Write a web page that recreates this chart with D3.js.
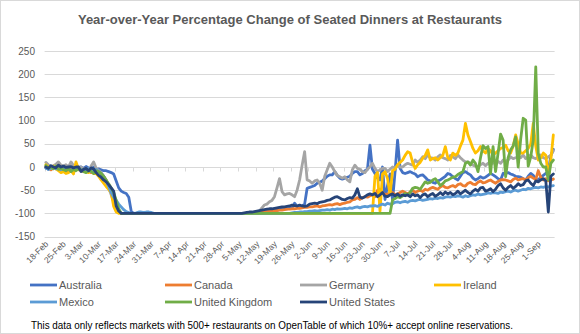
<!DOCTYPE html>
<html>
<head>
<meta charset="utf-8">
<script src="https://cdn.jsdelivr.net/npm/d3@7"></script>
<style>
  html, body { margin: 0; padding: 0; background: #fff; }
  svg { display: block; font-family: "Liberation Sans", Arial, sans-serif; }
</style>
</head>
<body>
<div id="chart"></div>
<script>
// Daily values, 18-Feb .. 7-Sep (one row per week)
const tickLabels = ["18-Feb", "25-Feb", "3-Mar", "10-Mar", "17-Mar", "24-Mar", "31-Mar", "7-Apr",
  "14-Apr", "21-Apr", "28-Apr", "5-May", "12-May", "19-May", "26-May", "2-Jun", "9-Jun", "16-Jun",
  "23-Jun", "30-Jun", "7-Jul", "14-Jul", "21-Jul", "28-Jul", "4-Aug", "11-Aug", "18-Aug", "25-Aug", "1-Sep"];

const yTicks = [-150, -100, -50, 0, 50, 100, 150, 200, 250];

const australia = [
  -2, -5, 2, -3, 0, 3, -2,
  -4, 0, 2, -2, 1, 3, -1,
  0, -3, 1, -2, -5, 0, -6,
  -4, -6, -8, -8, -10, -12, -15,
  -30, -45, -52, -55, -57, -65, -96,
  -100, -100, -100, -100, -100, -100, -100,
  -100, -100, -100, -100, -100, -100, -100,
  -100, -100, -100, -100, -100, -100, -100,
  -100, -100, -100, -100, -100, -100, -100,
  -100, -100, -100, -100, -100, -100, -100,
  -100, -100, -100, -100, -100, -100, -100,
  -100, -100, -100, -100, -100, -100, -100,
  -100, -99, -98, -97, -96, -95, -95,
  -94, -93, -92, -91, -90, -90, -89,
  -88, -78, -85, -86, -84, -80, -46,
  -44, -42, -40, -35, -33, -30, -25,
  -20, -17, -17, -10, -18, -24, -26,
  -24, -22, -20, -14, -10, -10, -17,
  -14, -8, -5, 47, -5, -14, -24,
  -28, 0, -70, -40, -15, -72, -10,
  58, -3, -12, -14, -12, -10, -13,
  -15, -21, -18, -17, -22, -28, -30,
  -33, -35, -30, -28, -24, -20, -14,
  -16, -21, -25, -28, -20, -12, -10,
  -14, -17, -24, -28, -25, -21, -24,
  -22, -18, -14, -17, -21, -25, -28,
  -14, -13, -12, -15, -17, -20, -21,
  -22, -25, -28, -20, -14, -18, -26,
  -28, -22, -18, -14, -10, 25, 38
];

const canada = [
  0, -3, -6, -2, 3, 5, -2,
  -5, -8, -10, -4, -8, -3, -6,
  -4, -10, -6, -5, -12, -8, -7,
  -10, -14, -20, -28, -40, -55, -70,
  -90, -97, -100, -100, -100, -100, -100,
  -100, -100, -100, -100, -100, -100, -100,
  -100, -100, -100, -100, -100, -100, -100,
  -100, -100, -100, -100, -100, -100, -100,
  -100, -100, -100, -100, -100, -100, -100,
  -100, -100, -100, -100, -100, -100, -100,
  -100, -100, -100, -100, -100, -100, -100,
  -100, -100, -100, -100, -100, -100, -100,
  -99, -98, -97, -97, -96, -95, -95,
  -94, -94, -93, -93, -92, -91, -91,
  -90, -90, -89, -89, -88, -87, -87,
  -86, -86, -85, -84, -86, -84, -83,
  -82, -81, -82, -80, -79, -81, -79,
  -78, -76, -75, -71, -70, -66, -70,
  -66, -64, -65, -62, -60, -64, -50,
  -48, -55, -60, -58, -57, -55, -60,
  -58, -55, -52, -55, -58, -54, -50,
  -55, -52, -50, -53, -48, -50, -46,
  -44, -46, -48, -43, -40, -44, -45,
  -42, -40, -43, -38, -36, -40, -41,
  -35, -33, -37, -38, -33, -30, -34,
  -33, -30, -28, -32, -35, -31, -28,
  -27, -28, -30, -32, -27, -24, -28,
  -26, -25, -28, -23, -20, -24, -27,
  -8, -22, -28, -25, -30, -28, -26
];

const germany = [
  10, 5, 0, 3, 6, 11, 4,
  2, 5, 0, 11, 3, 0, -2,
  0, -5, -3, -8, 2, 11, -2,
  -8, -12, -20, -30, -45, -60, -75,
  -90, -97, -100, -100, -100, -100, -100,
  -100, -100, -100, -100, -100, -100, -100,
  -100, -100, -100, -100, -100, -100, -100,
  -100, -100, -100, -100, -100, -100, -100,
  -100, -100, -100, -100, -100, -100, -100,
  -100, -100, -100, -100, -100, -100, -100,
  -100, -100, -100, -100, -100, -100, -100,
  -100, -100, -100, -100, -100, -100, -100,
  -100, -95, -88, -82, -80, -75, -72,
  -64, -45, -25, -53, -60, -58, -57,
  -60, -64, -50, -28, 4, 33, -28,
  -30, -35, -30, -28, -35, -50, -20,
  -6, 8, 0, -10, -18, -21, -24,
  -21, -28, -32, -6, 4, -3, -5,
  -10, -12, -5, 0, 8, -3, -10,
  -6, -3, -3, -10, -5, 0, -2,
  3, 0, 0, 5, 8, 6, 4,
  15, 10, 15, 22, 18, 26, 20,
  19, 15, 22, 26, 20, 18, 15,
  25, 22, 18, 26, 20, 15, 11,
  11, 8, 4, 2, 0, 5, 8,
  3, 8, 5, 10, 6, 12, 8,
  15, 12, 15, 22, 18, 20, 22,
  20, 26, 18, 22, 26, 20, 18,
  22, 26, 20, 18, 22, 25, 35
];

const ireland = [
  5, 0, -3, 2, -4, -8, -12,
  -10, -14, -12, -8, -15, 11, -5,
  -8, -6, -10, -12, -8, -14, -14,
  -20, -28, -35, -42, -48, -55, -85,
  -97, -100, -100, -100, -100, -100, -100,
  -100, -100, -100, -100, -100, -100, -100,
  -100, -100, -100, -100, -100, -100, -100,
  -100, -100, -100, -100, -100, -100, -100,
  -100, -100, -100, -100, -100, -100, -100,
  -100, -100, -100, -100, -100, -100, -100,
  -100, -100, -100, -100, -100, -100, -100,
  -100, -100, -100, -100, -100, -100, -100,
  -100, -100, -100, -100, -100, -100, -100,
  -100, -100, -100, -100, -100, -100, -100,
  -100, -100, -100, -100, -100, -100, -100,
  -100, -100, -100, -100, -100, -100, -100,
  -100, -100, -100, -100, -100, -100, -100,
  -100, -100, -100, -100, -100, -100, -100,
  -100, -100, -100, -100, -100, -20, -12,
  -95, -15, -10, -25, -60, -8, -5,
  5, 10, 15, 25, 33, 30, 10,
  -3, 5, 10, 19, 25, 37, 15,
  18, 20, 15, 20, 25, 44, 20,
  15, 30, 25, 30, 45, 58, 94,
  69, 55, 40, 30, 35, 44, 35,
  30, 40, 35, 26, 30, 35, 40,
  42, 47, 35, 30, 45, 69, 50,
  30, 30, 35, 40, 50, 94, 45,
  15, 20, 30, 25, -20, 15, 69
];

const mexico = [
  -2, -5, -3, 0, -4, -2, -6,
  -4, -2, -5, -8, -3, -6, -4,
  -5, -8, -6, -3, -10, -8, -5,
  -10, -14, -20, -30, -42, -55, -65,
  -72, -80, -86, -92, -96, -98, -100,
  -100, -99, -97, -97, -98, -97, -97,
  -98, -100, -100, -100, -100, -100, -100,
  -100, -100, -100, -100, -100, -100, -100,
  -100, -100, -100, -100, -100, -100, -100,
  -100, -100, -100, -100, -100, -100, -100,
  -100, -100, -100, -100, -100, -100, -100,
  -100, -100, -100, -100, -100, -100, -100,
  -100, -100, -100, -100, -100, -100, -100,
  -100, -100, -100, -100, -100, -100, -100,
  -99, -98, -98, -97, -97, -96, -96,
  -95, -95, -94, -95, -94, -93, -93,
  -92, -93, -91, -92, -90, -91, -90,
  -89, -90, -88, -89, -87, -86, -88,
  -86, -85, -86, -84, -84, -83, -85,
  -82, -80, -82, -78, -80, -79, -76,
  -75, -77, -75, -74, -76, -73, -72,
  -73, -71, -70, -72, -71, -70, -68,
  -69, -67, -68, -66, -67, -65, -64,
  -65, -63, -64, -62, -63, -65, -62,
  -64, -62, -60, -61, -58, -60, -59,
  -58, -56, -57, -55, -56, -57, -54,
  -55, -53, -52, -54, -51, -50, -52,
  -50, -48, -49, -46, -47, -45, -44,
  -45, -43, -44, -42, -43, -41, -40
];

const unitedKingdom = [
  3, -2, 0, -4, 2, -5, -3,
  -6, -8, -3, -10, -5, -8, -4,
  -6, -10, -12, -8, -9, -14, -8,
  -10, -14, -20, -28, -36, -45, -55,
  -72, -90, -100, -100, -100, -100, -100,
  -100, -100, -100, -100, -100, -100, -100,
  -100, -100, -100, -100, -100, -100, -100,
  -100, -100, -100, -100, -100, -100, -100,
  -100, -100, -100, -100, -100, -100, -100,
  -100, -100, -100, -100, -100, -100, -100,
  -100, -100, -100, -100, -100, -100, -100,
  -100, -100, -100, -100, -100, -100, -100,
  -100, -100, -100, -100, -100, -100, -100,
  -100, -100, -100, -100, -100, -100, -100,
  -100, -100, -100, -100, -100, -100, -100,
  -100, -100, -100, -100, -100, -100, -100,
  -100, -100, -100, -100, -100, -100, -100,
  -100, -100, -100, -100, -100, -100, -100,
  -100, -100, -100, -100, -100, -100, -100,
  -100, -100, -100, -100, -100, -71, -68,
  -64, -66, -62, -57, -60, -55, -46,
  -44, -45, -48, -40, -32, -35, -33,
  -28, -25, -32, -40, -36, -30, -28,
  -25, -22, -21, -16, -13, -10, 8,
  11, 4, 15, 8, -10, 20, 46,
  40, 44, -14, 44, -10, 30, 71,
  58, -21, 20, 37, 45, 65, 0,
  60, 105, 101, 2, 22, 58, 216,
  30, 8, 0, 0, -28, 8, 15
];

const unitedStates = [
  0, -3, 3, 0, -2, 4, 0,
  2, -1, 0, 1, -2, 0, 0,
  -10, -5, -3, -8, -2, -4, -12,
  -18, -22, -28, -32, -38, -45, -52,
  -84, -95, -100, -100, -100, -100, -100,
  -100, -100, -100, -100, -100, -100, -100,
  -100, -100, -100, -100, -100, -100, -100,
  -100, -100, -100, -100, -100, -100, -100,
  -100, -100, -100, -100, -100, -100, -100,
  -100, -100, -100, -100, -100, -100, -100,
  -100, -100, -100, -100, -100, -100, -100,
  -100, -100, -99, -98, -97, -97, -96,
  -95, -94, -93, -92, -91, -90, -90,
  -89, -88, -87, -86, -86, -85, -84,
  -82, -83, -84, -82, -84, -85, -84,
  -80, -79, -78, -79, -76, -75, -74,
  -72, -71, -68, -65, -64, -67, -70,
  -71, -68, -66, -67, -60, -47, -65,
  -67, -64, -60, -58, -60, -57, -64,
  -60, -55, -63, -64, -60, -58, -62,
  -58, -63, -60, -62, -60, -64, -58,
  -62, -60, -66, -60, -58, -64, -60,
  -57, -63, -60, -55, -60, -54, -58,
  -55, -60, -57, -52, -58, -54, -50,
  -55, -58, -52, -48, -52, -45, -44,
  -52, -50, -47, -53, -48, -40, -36,
  -45, -50, -44, -40, -46, -42, -36,
  -40, -38, -30, -28, -35, -40, -30,
  -32, -28, -25, -30, -97, -20, -15
];

const series = [
  { name: "Australia",      color: "#4472C4", values: australia },
  { name: "Canada",         color: "#ED7D31", values: canada },
  { name: "Germany",        color: "#A5A5A5", values: germany },
  { name: "Ireland",        color: "#FFC000", values: ireland },
  { name: "Mexico",         color: "#5B9BD5", values: mexico },
  { name: "United Kingdom", color: "#70AD47", values: unitedKingdom },
  { name: "United States",  color: "#264478", values: unitedStates },
];

const N = australia.length;

const W = 580, H = 334;
const plot = { left: 44.6, right: 554.6, top: 51, bottom: 236.6 };
const textColor = "#595959";
const gridColor = "#d9d9d9";

const svg = d3.select("#chart").append("svg")
  .attr("width", W).attr("height", H);

svg.append("rect")
  .attr("x", 0.5).attr("y", 0.5).attr("width", W - 1).attr("height", H - 1)
  .attr("fill", "#fff").attr("stroke", gridColor);

svg.append("text")
  .attr("x", 290).attr("y", 24)
  .attr("text-anchor", "middle")
  .attr("fill", textColor)
  .style("font-size", "13px").style("font-weight", "bold")
  .text("Year-over-Year Percentage Change of Seated Dinners at Restaurants");

const y = d3.scaleLinear().domain([-150, 250]).range([plot.bottom, plot.top]);
const x = d3.scaleBand().domain(d3.range(N)).range([plot.left, plot.right]);
const cx = i => x(i) + x.bandwidth() / 2;

// gridlines + y labels
svg.append("g").selectAll("line").data(yTicks).join("line")
  .attr("x1", plot.left).attr("x2", plot.right)
  .attr("y1", d => Math.round(y(d)) + 0.5).attr("y2", d => Math.round(y(d)) + 0.5)
  .attr("stroke", gridColor);

svg.append("g").selectAll("text").data(yTicks).join("text")
  .attr("x", 35).attr("y", d => y(d) + 3.5)
  .attr("text-anchor", "end")
  .attr("fill", textColor)
  .style("font-size", "10px")
  .text(d => d);

// category axis sits on the zero line, tick every 7 days
const y0 = Math.round(y(0)) + 0.5;
svg.append("g").selectAll("line").data(d3.range(tickLabels.length + 1)).join("line")
  .attr("x1", k => Math.round(plot.left + k * 7 * x.bandwidth()) + 0.5)
  .attr("x2", k => Math.round(plot.left + k * 7 * x.bandwidth()) + 0.5)
  .attr("y1", y0).attr("y2", y0 + 4)
  .attr("stroke", gridColor);

svg.append("g").selectAll("text").data(tickLabels).join("text")
  .attr("transform", (d, k) => `translate(${cx(k * 7) + 3},${plot.bottom + 8}) rotate(-45)`)
  .attr("text-anchor", "end")
  .attr("fill", textColor)
  .style("font-size", "8.5px")
  .text(d => d);

const line = d3.line()
  .x((d, i) => cx(i))
  .y(d => y(d));

svg.append("g").selectAll("path").data(series).join("path")
  .attr("d", s => line(s.values))
  .attr("fill", "none")
  .attr("stroke", s => s.color)
  .attr("stroke-width", 2.8)
  .attr("stroke-linejoin", "round")
  .attr("stroke-linecap", "round");

// legend, 4 columns x 2 rows
const legendX = [30, 165, 300, 434];
const legendY = [285, 302];
const leg = svg.append("g").selectAll("g").data(series).join("g")
  .attr("transform", (s, i) => `translate(${legendX[i % 4]},${legendY[Math.floor(i / 4)]})`);
leg.append("line")
  .attr("x1", 0).attr("x2", 27)
  .attr("stroke", s => s.color).attr("stroke-width", 2.8);
leg.append("text")
  .attr("x", 29).attr("y", 4)
  .attr("fill", textColor)
  .style("font-size", "11px")
  .text(s => s.name);

svg.append("text")
  .attr("x", 31).attr("y", 329)
  .attr("fill", "#000")
  .attr("textLength", 482).attr("lengthAdjust", "spacingAndGlyphs")
  .style("font-size", "10px")
  .text("This data only reflects markets with 500+ restaurants on OpenTable of which 10%+ accept online reservations.");
</script>
</body>
</html>
